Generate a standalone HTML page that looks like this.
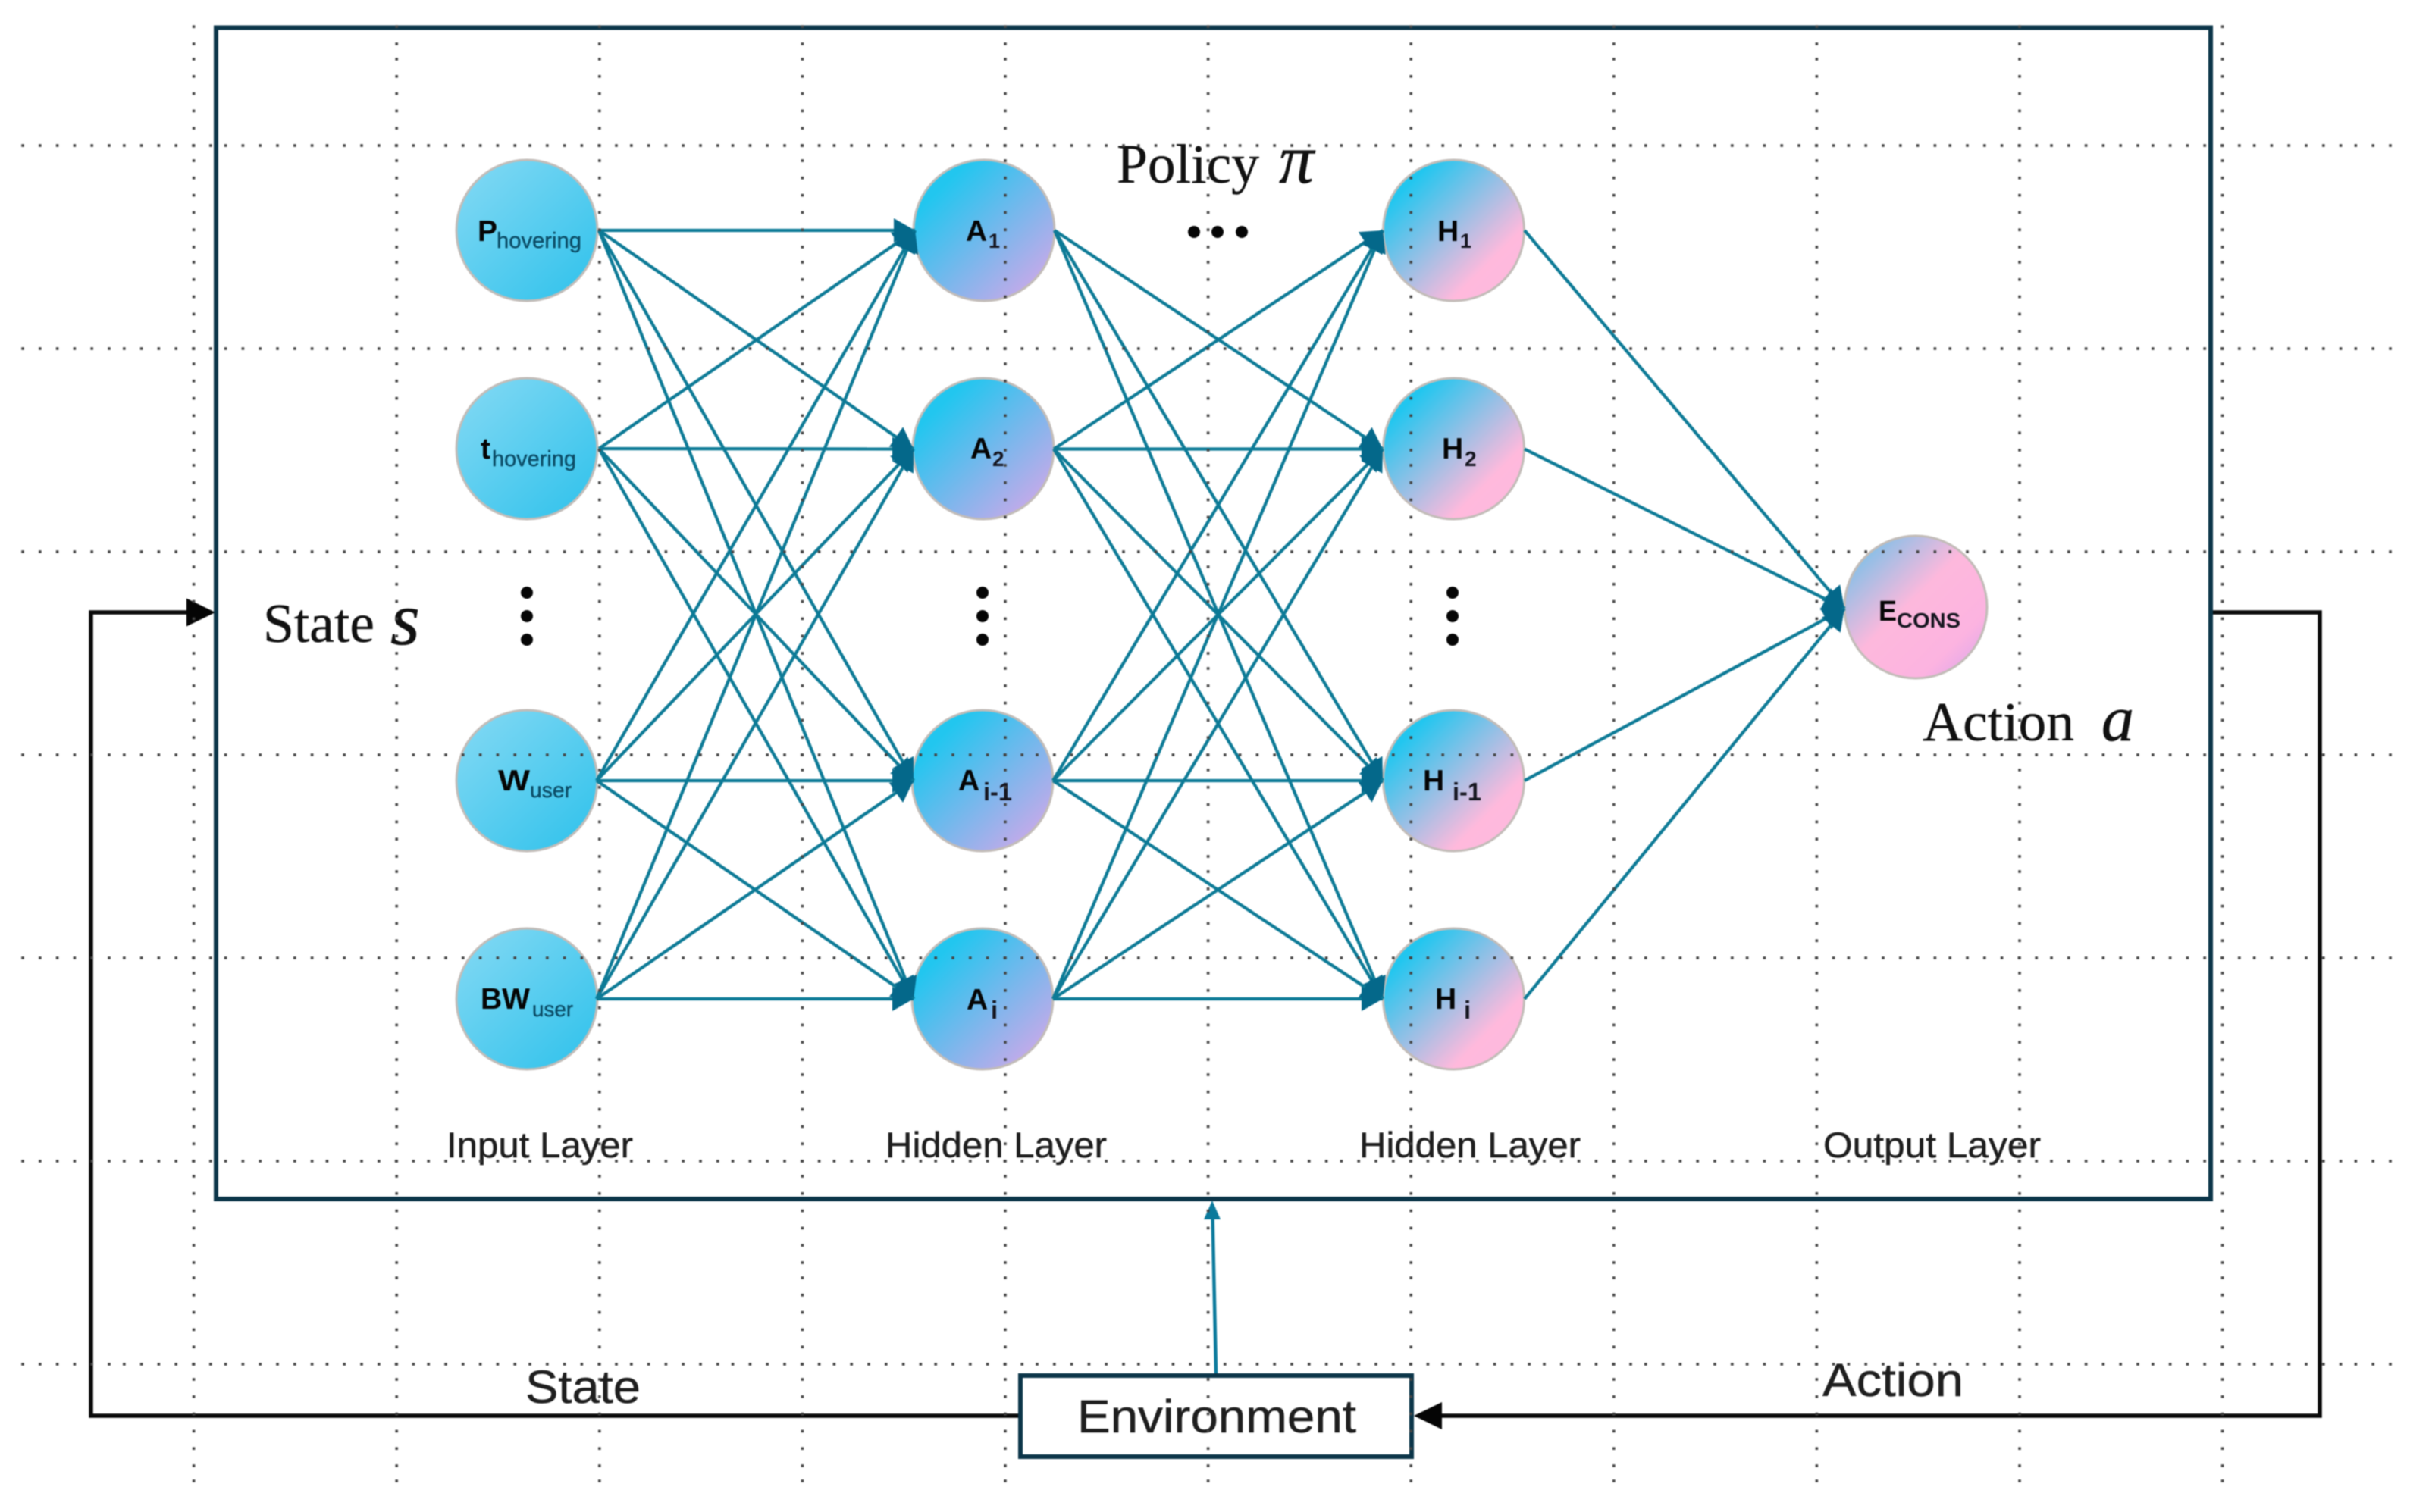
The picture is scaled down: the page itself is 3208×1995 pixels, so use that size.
<!DOCTYPE html>
<html>
<head>
<meta charset="utf-8">
<style>
html,body{margin:0;padding:0;background:#fff;width:3208px;height:1995px;overflow:hidden}
svg{display:block;filter:blur(0.9px)}
.s{font-family:"Liberation Sans",Arial,sans-serif;stroke:#1e1e1e;stroke-width:0.5}
.b{font-family:"Liberation Sans",Arial,sans-serif;font-weight:bold;fill:#050505}
.sub{font-family:"Liberation Sans",Arial,sans-serif;fill:#0b4c66;stroke:#0b4c66;stroke-width:0.4}
.sb{font-family:"Liberation Sans",Arial,sans-serif;font-weight:bold;fill:#15151f}
.t{font-family:"Liberation Serif","Times New Roman",serif;fill:#111;stroke:#111;stroke-width:0.4}
.ti{font-family:"Liberation Serif","Times New Roman",serif;font-style:italic;fill:#111;stroke:#111;stroke-width:0.6}
.e line{stroke:#0c7a96;stroke-width:4.2;marker-end:url(#ah)}
.n circle{stroke:#c2bcb8;stroke-width:3}
</style>
</head>
<body>
<svg xmlns="http://www.w3.org/2000/svg" width="3208" height="1995" viewBox="0 0 3208 1995">
<defs>
<marker id="ah" markerUnits="userSpaceOnUse" markerWidth="32" markerHeight="34" refX="30" refY="17" orient="auto">
<path d="M2,1 L30,17 L2,33 Z" fill="#04688a"/>
</marker>
<linearGradient id="gi" x1="0.1" y1="0.1" x2="0.85" y2="0.9">
<stop offset="0" stop-color="#7dd7f3"/><stop offset="1" stop-color="#38c4ec"/>
</linearGradient>
<linearGradient id="ga" x1="0.12" y1="0.12" x2="0.88" y2="0.9">
<stop offset="0.1" stop-color="#22c6ef"/><stop offset="1" stop-color="#c8a9e9"/>
</linearGradient>
<linearGradient id="gh" x1="0.12" y1="0.12" x2="0.85" y2="0.85">
<stop offset="0.08" stop-color="#22c6ef"/><stop offset="0.85" stop-color="#ffb9dc"/><stop offset="1" stop-color="#fdb9dd"/>
</linearGradient>
<linearGradient id="ge" x1="0.1" y1="0.1" x2="0.9" y2="0.92">
<stop offset="0" stop-color="#7cc0e8"/><stop offset="0.45" stop-color="#fdb8dc"/><stop offset="0.82" stop-color="#fcb3e0"/><stop offset="1" stop-color="#e3a8e9"/>
</linearGradient>
<pattern id="hd" patternUnits="userSpaceOnUse" x="28.2" y="0" width="133.8" height="268">
<rect x="0" y="190.2" width="3.6" height="3.6" fill="#444"/>
<rect x="22.8" y="190.2" width="3.6" height="3.6" fill="#444"/>
<rect x="45.6" y="190.2" width="3.6" height="3.6" fill="#444"/>
<rect x="68.4" y="190.2" width="3.6" height="3.6" fill="#444"/>
<rect x="91.2" y="190.2" width="3.6" height="3.6" fill="#444"/>
<rect x="114" y="190.2" width="3.6" height="3.6" fill="#444"/>
</pattern>
<pattern id="vd" patternUnits="userSpaceOnUse" x="0" y="-57.8" width="267.6" height="134">
<rect x="253.8" y="0" width="3.6" height="3.6" fill="#444"/>
<rect x="253.8" y="22.8" width="3.6" height="3.6" fill="#444"/>
<rect x="253.8" y="45.6" width="3.6" height="3.6" fill="#444"/>
<rect x="253.8" y="68.4" width="3.6" height="3.6" fill="#444"/>
<rect x="253.8" y="91.2" width="3.6" height="3.6" fill="#444"/>
<rect x="253.8" y="114" width="3.6" height="3.6" fill="#444"/>
</pattern>
</defs>

<rect width="3208" height="1995" fill="#fff"/>

<!-- black feedback loop -->
<path d="M1344,1868 H120 V808 H250" fill="none" stroke="#0a0a0a" stroke-width="5.6"/>
<polygon points="284,808 246,789.5 246,826.5" fill="#050505"/>
<path d="M2916,808 H3060 V1868 H1900" fill="none" stroke="#0a0a0a" stroke-width="5.6"/>
<polygon points="1865,1868 1902,1850 1902,1886" fill="#050505"/>

<!-- main box -->
<rect x="285" y="36.5" width="2631" height="1545.5" fill="none" stroke="#0b3549" stroke-width="6"/>

<!-- environment -->
<rect x="1346" y="1815" width="516" height="107" fill="#fff" stroke="#0b3549" stroke-width="6"/>
<line x1="1604" y1="1812" x2="1599.5" y2="1602" stroke="#0b7a9c" stroke-width="4.5"/>
<polygon points="1599,1584 1588,1609 1610,1609" fill="#0b7a9c"/>

<!-- nodes -->
<g class="n">
<circle cx="695" cy="304" r="93" fill="url(#gi)"/>
<circle cx="695" cy="592" r="93" fill="url(#gi)"/>
<circle cx="695" cy="1030" r="93" fill="url(#gi)"/>
<circle cx="695" cy="1318" r="93" fill="url(#gi)"/>
<circle cx="1298" cy="304" r="93" fill="url(#ga)"/>
<circle cx="1297" cy="592" r="93" fill="url(#ga)"/>
<circle cx="1296" cy="1030" r="93" fill="url(#ga)"/>
<circle cx="1296" cy="1318" r="93" fill="url(#ga)"/>
<circle cx="1917.5" cy="304" r="93" fill="url(#gh)"/>
<circle cx="1917.5" cy="592" r="93" fill="url(#gh)"/>
<circle cx="1917.5" cy="1030" r="93" fill="url(#gh)"/>
<circle cx="1917.5" cy="1318" r="93" fill="url(#gh)"/>
<circle cx="2527" cy="801" r="94" fill="url(#ge)"/>
</g>

<!-- connectors -->
<g class="e">
<line x1="790" y1="304" x2="1207" y2="304"/>
<line x1="790" y1="304" x2="1205" y2="592.5"/>
<line x1="790" y1="304" x2="1205" y2="1030"/>
<line x1="790" y1="304" x2="1205" y2="1318"/>
<line x1="790" y1="592" x2="1207" y2="304"/>
<line x1="790" y1="592" x2="1205" y2="592.5"/>
<line x1="790" y1="592" x2="1205" y2="1030"/>
<line x1="790" y1="592" x2="1205" y2="1318"/>
<line x1="787" y1="1030" x2="1207" y2="304"/>
<line x1="787" y1="1030" x2="1205" y2="592.5"/>
<line x1="787" y1="1030" x2="1205" y2="1030"/>
<line x1="787" y1="1030" x2="1205" y2="1318"/>
<line x1="787" y1="1318" x2="1207" y2="304"/>
<line x1="787" y1="1318" x2="1205" y2="592.5"/>
<line x1="787" y1="1318" x2="1205" y2="1030"/>
<line x1="787" y1="1318" x2="1205" y2="1318"/>
<line x1="1391" y1="304" x2="1824" y2="592.5"/>
<line x1="1391" y1="304" x2="1824" y2="1030"/>
<line x1="1391" y1="304" x2="1824" y2="1318"/>
<line x1="1390" y1="592.5" x2="1824" y2="304"/>
<line x1="1390" y1="592.5" x2="1824" y2="592.5"/>
<line x1="1390" y1="592.5" x2="1824" y2="1030"/>
<line x1="1390" y1="592.5" x2="1824" y2="1318"/>
<line x1="1389" y1="1030" x2="1824" y2="304"/>
<line x1="1389" y1="1030" x2="1824" y2="592.5"/>
<line x1="1389" y1="1030" x2="1824" y2="1030"/>
<line x1="1389" y1="1030" x2="1824" y2="1318"/>
<line x1="1389" y1="1318" x2="1824" y2="304"/>
<line x1="1389" y1="1318" x2="1824" y2="592.5"/>
<line x1="1389" y1="1318" x2="1824" y2="1030"/>
<line x1="1389" y1="1318" x2="1824" y2="1318"/>
<line x1="2011" y1="304" x2="2433" y2="803"/>
<line x1="2011" y1="592.5" x2="2433" y2="803"/>
<line x1="2011" y1="1030" x2="2433" y2="803"/>
<line x1="2011" y1="1318" x2="2433" y2="803"/>
</g>

<!-- node labels -->
<text class="b" x="630" y="318" font-size="39">P</text>
<text class="sub" x="655" y="327" font-size="29" textLength="112" lengthAdjust="spacingAndGlyphs">hovering</text>
<text class="b" x="634" y="605" font-size="39">t</text>
<text class="sub" x="649" y="615" font-size="29" textLength="111" lengthAdjust="spacingAndGlyphs">hovering</text>
<text class="b" x="657" y="1043" font-size="39" textLength="42" lengthAdjust="spacingAndGlyphs">W</text>
<text class="sub" x="699" y="1052" font-size="28" textLength="55" lengthAdjust="spacingAndGlyphs">user</text>
<text class="b" x="634" y="1331" font-size="39" textLength="65" lengthAdjust="spacingAndGlyphs">BW</text>
<text class="sub" x="702" y="1341" font-size="28" textLength="54" lengthAdjust="spacingAndGlyphs">user</text>

<text class="b" x="1274" y="318" font-size="39">A</text>
<text class="sb" x="1304" y="327" font-size="27">1</text>
<text class="b" x="1280" y="605" font-size="39">A</text>
<text class="sb" x="1309" y="615" font-size="28">2</text>
<text class="b" x="1264" y="1043" font-size="39">A</text>
<text class="sb" x="1297" y="1056" font-size="33" textLength="38" lengthAdjust="spacingAndGlyphs">i-1</text>
<text class="b" x="1275" y="1332" font-size="39">A</text>
<text class="sb" x="1307" y="1344" font-size="33">i</text>

<text class="b" x="1896" y="318" font-size="39">H</text>
<text class="sb" x="1926" y="327" font-size="27">1</text>
<text class="b" x="1902" y="605" font-size="39">H</text>
<text class="sb" x="1932" y="615" font-size="28">2</text>
<text class="b" x="1877" y="1043" font-size="39">H</text>
<text class="sb" x="1916" y="1056" font-size="33" textLength="38" lengthAdjust="spacingAndGlyphs">i-1</text>
<text class="b" x="1893" y="1331" font-size="39">H</text>
<text class="sb" x="1931" y="1344" font-size="33">i</text>

<text class="b" x="2478" y="819" font-size="38" textLength="24" lengthAdjust="spacingAndGlyphs">E</text>
<text class="sb" x="2502" y="828" font-size="28" textLength="84" lengthAdjust="spacingAndGlyphs">CONS</text>

<!-- ellipses -->
<g fill="#050505">
<circle cx="695" cy="782" r="8"/><circle cx="695" cy="813" r="8"/><circle cx="695" cy="844" r="8"/>
<circle cx="1296" cy="782" r="8"/><circle cx="1296" cy="813" r="8"/><circle cx="1296" cy="844" r="8"/>
<circle cx="1916" cy="782" r="8"/><circle cx="1916" cy="813" r="8"/><circle cx="1916" cy="844" r="8"/>
<circle cx="1575" cy="306" r="8"/><circle cx="1606" cy="306" r="8"/><circle cx="1638" cy="306" r="8"/>
</g>

<!-- serif labels -->
<text class="t" x="1473" y="241" font-size="73" textLength="188" lengthAdjust="spacingAndGlyphs">Policy</text>
<text class="ti" x="1687" y="241" font-size="92">π</text>
<text class="t" x="347" y="847" font-size="73" textLength="147" lengthAdjust="spacingAndGlyphs">State</text>
<text class="ti" x="515" y="850" font-size="100">s</text>
<text class="t" x="2536" y="977" font-size="73" textLength="200" lengthAdjust="spacingAndGlyphs">Action</text>
<text class="ti" x="2772" y="977" font-size="86">a</text>

<!-- sans labels -->
<g class="s" fill="#1e1e1e">
<text x="589" y="1527" font-size="47" textLength="246" lengthAdjust="spacingAndGlyphs">Input Layer</text>
<text x="1168" y="1527" font-size="47" textLength="292" lengthAdjust="spacingAndGlyphs">Hidden Layer</text>
<text x="1793" y="1527" font-size="47" textLength="292" lengthAdjust="spacingAndGlyphs">Hidden Layer</text>
<text x="2405" y="1527" font-size="47" textLength="287" lengthAdjust="spacingAndGlyphs">Output Layer</text>
<text x="693" y="1851" font-size="61" textLength="152" lengthAdjust="spacingAndGlyphs">State</text>
<text x="2404" y="1842" font-size="61" textLength="186" lengthAdjust="spacingAndGlyphs">Action</text>
<text x="1421" y="1890" font-size="61" textLength="368" lengthAdjust="spacingAndGlyphs">Environment</text>
</g>

<!-- dotted grid on top -->
<rect x="28" y="0" width="3130" height="1995" fill="url(#hd)"/>
<rect x="0" y="33" width="3000" height="1924" fill="url(#vd)"/>
</svg>
</body>
</html>
